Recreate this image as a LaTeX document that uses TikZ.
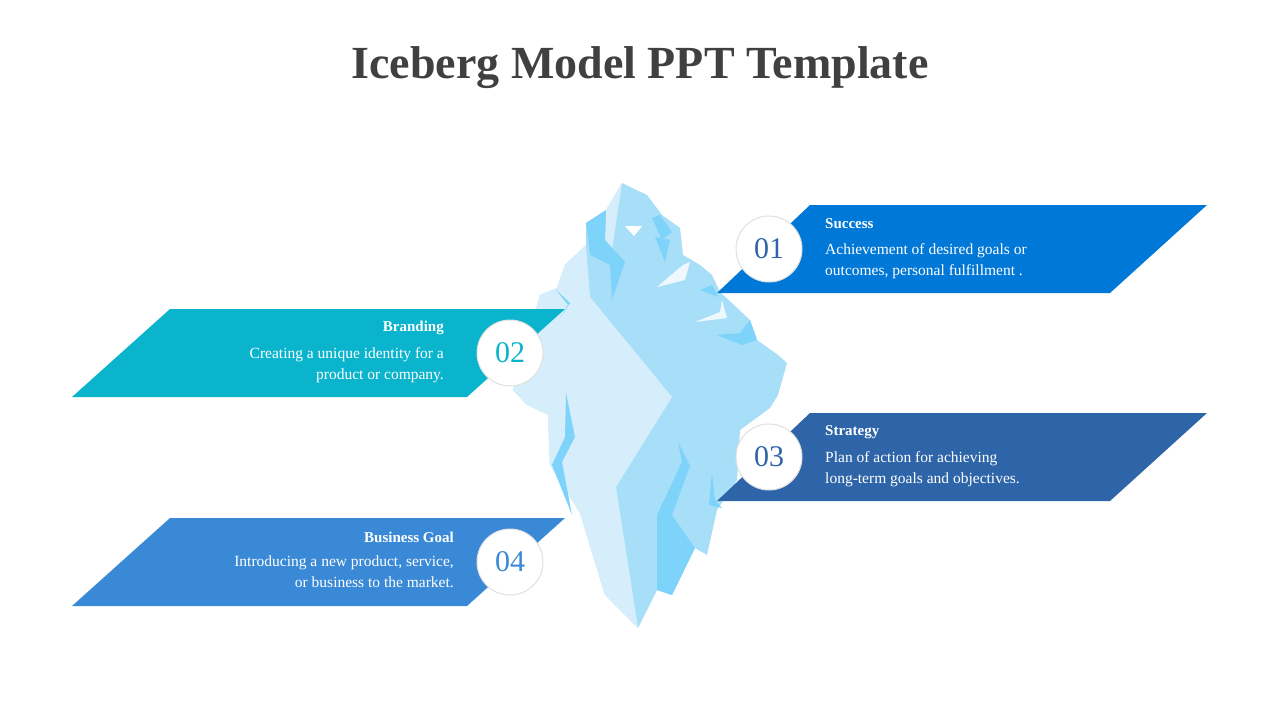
\documentclass[tikz,border=0pt]{standalone}
\usepackage{fontspec}
\setmainfont{Liberation Serif}
\usetikzlibrary{shadows}
\definecolor{titlegray}{HTML}{404040}
\definecolor{iceA}{HTML}{A8DFF8}
\definecolor{iceB}{HTML}{D6EEFB}
\definecolor{iceC}{HTML}{7DD3FA}
\definecolor{bandA}{HTML}{0078D7}
\definecolor{bandB}{HTML}{0AB4CC}
\definecolor{bandC}{HTML}{2E65A8}
\definecolor{bandD}{HTML}{3A89D6}
\tikzset{
  numdisc/.style={circle,fill=white,minimum size=66pt,inner sep=0pt,draw=black!12,line width=1pt,
    font=\fontsize{30}{30}\selectfont},
  headtxt/.style={text=white,font=\fontsize{15}{18}\selectfont\bfseries,inner sep=0pt},
  bodytxt/.style={text=white,font=\fontsize{15.5}{21}\selectfont,inner sep=0pt}
}
\begin{document}
\begin{tikzpicture}[x=1pt,y=-1pt]
\useasboundingbox (0,0) rectangle (1280,720);
\node[text=titlegray,font=\fontsize{46}{46}\selectfont\bfseries] (title) at (640,68) {Iceberg Model PPT Template};

% iceberg body
\fill[iceA] (622,183) -- (647,195) -- (662,215) -- (680,228) -- (683,255) -- (700,265) -- (712,275) -- (720,292)
  -- (750,320) -- (757,340) -- (778,355) -- (787,363) -- (778,395) -- (770,408) -- (740,430) -- (737,480)
  -- (717,510) -- (707,555) -- (695,548) -- (672,595) -- (657,590) -- (638,628) -- (605,595) -- (580,513)
  -- (550,465) -- (548,415) -- (537,405) -- (527,405) -- (513,390) -- (540,295) -- (557,288) -- (565,265)
  -- (586,245) -- (586,223) -- (606,210) -- cycle;
% light face
\fill[iceB] (590,297) -- (672,397) -- (616,487) -- (638,628) -- (605,595) -- (580,513) -- (550,465)
  -- (548,415) -- (527,405) -- (513,390) -- (540,295) -- (557,288) -- (565,265) -- (586,245) -- cycle;
\fill[iceB] (622,183) -- (606,210) -- (605,240) -- (612,250) -- cycle;
% dark accents
\fill[iceC] (586,223) -- (606,210) -- (605,240) -- (625,262) -- (612,300) -- (610,265) -- (590,255) -- cycle;
\fill[iceC] (652,218) -- (662,240) -- (672,232) -- (660,215) -- cycle;
\fill[iceC] (655,237) -- (665,262) -- (670,240) -- cycle;
\fill[iceC] (700,290) -- (712,285) -- (718,297) -- cycle;
\fill[iceC] (717,335) -- (742,345) -- (757,340) -- (750,320) -- (740,333) -- cycle;
\fill[iceC] (556,290) -- (570,303) -- (560,318) -- (568,305) -- cycle;
\fill[iceC] (566,393) -- (575,437) -- (562,462) -- (572,515) -- (552,465) -- (565,437) -- cycle;
\fill[iceC] (678,442) -- (690,466) -- (672,515) -- (695,548) -- (672,595) -- (657,590) -- (657,515) -- (682,462) -- cycle;
\fill[iceC] (712,473) -- (715,500) -- (722,508) -- (709,505) -- cycle;
\fill[white] (625,226) -- (642,226) -- (634,236) -- cycle;
\fill[white!60!iceB] (657,287) -- (683,265) -- (690,262) -- (685,280) -- cycle;
\fill[white!60!iceB] (695,322) -- (720,312) -- (722,300) -- (727,318) -- cycle;

% banners
\fill[bandA] (717,293) -- (810,205) -- (1207,205) -- (1110,293) -- cycle;
\fill[bandB] (72,397) -- (170,309) -- (565,309) -- (467,397) -- cycle;
\fill[bandC] (717,501) -- (810,413) -- (1207,413) -- (1110,501) -- cycle;
\fill[bandD] (72,606) -- (170,518) -- (565,518) -- (467,606) -- cycle;

% discs
\node[numdisc,text=bandC] (n1) at (769,249) {01};
\node[numdisc,text=bandB] (n2) at (510,353) {02};
\node[numdisc,text=bandC] (n3) at (769,457) {03};
\node[numdisc,text=bandD] (n4) at (510,562) {04};

% texts
\node[headtxt,anchor=west] (h1) at (825,224) {Success};
\node[bodytxt,anchor=north west,align=left] (b1) at (825,243) {Achievement of desired goals or\\outcomes, personal fulfillment .};
\node[headtxt,anchor=east] (h2) at (444,328) {Branding};
\node[bodytxt,anchor=north east,align=right] (b2) at (444,347) {Creating a unique identity for a\\product or company.};
\node[headtxt,anchor=west] (h3) at (825,432) {Strategy};
\node[bodytxt,anchor=north west,align=left] (b3) at (825,451) {Plan of action for achieving\\long-term goals and objectives.};
\node[headtxt,anchor=east] (h4) at (454,537) {Business Goal};
\node[bodytxt,anchor=north east,align=right] (b4) at (454,556) {Introducing a new product, service,\\or business to the market.};
\end{tikzpicture}
\end{document}
